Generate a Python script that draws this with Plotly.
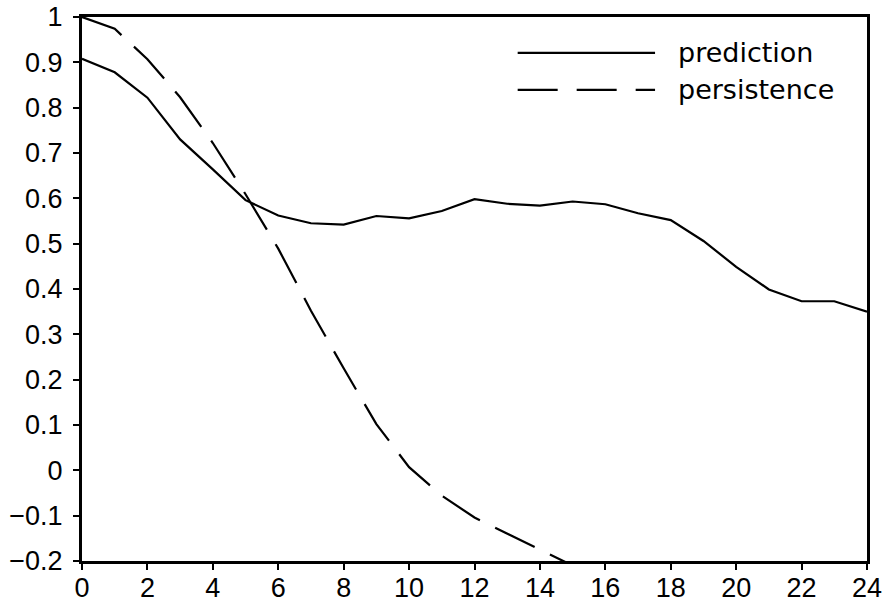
import plotly.graph_objects as go

lead = list(range(25))
prediction = [0.908, 0.878, 0.822, 0.730, 0.664, 0.596, 0.562, 0.545, 0.542, 0.561,
              0.556, 0.572, 0.598, 0.588, 0.584, 0.593, 0.587, 0.567, 0.552, 0.506,
              0.449, 0.399, 0.373, 0.373, 0.350]
persistence_x = list(range(16))
persistence = [1.0, 0.974, 0.907, 0.823, 0.722, 0.609, 0.489, 0.352, 0.225, 0.102,
               0.007, -0.056, -0.104, -0.140, -0.175, -0.21]

x_ticks = list(range(0, 25, 2))
y_ticks = [round(-0.2 + 0.1 * i, 1) for i in range(13)]
y_labels = ["\u22120.2", "\u22120.1", "0", "0.1", "0.2", "0.3", "0.4", "0.5",
            "0.6", "0.7", "0.8", "0.9", "1"]
legend_names = ["prediction", "persistence"]

fig = go.Figure()
fig.add_trace(go.Scatter(x=lead, y=prediction, mode="lines", name=legend_names[0],
                         line=dict(color="black", width=2.2), showlegend=False))
fig.add_trace(go.Scatter(x=persistence_x, y=persistence, mode="lines", name=legend_names[1],
                         line=dict(color="black", width=2.2, dash="44px,17px"), showlegend=False))

# manual legend (long line samples as in the reference)
legend_rows = [(0.934, "solid"), (0.866, "40px,19px")]
for (yy, dash), name in zip(legend_rows, legend_names):
    fig.add_shape(type="line", xref="paper", yref="paper", x0=0.555, x1=0.730, y0=yy, y1=yy,
                  line=dict(color="black", width=2.2, dash=dash))
    fig.add_annotation(xref="paper", yref="paper", x=0.757, y=yy, text=name, showarrow=False,
                       xanchor="left", yanchor="middle",
                       font=dict(family="DejaVu Sans", size=27, color="black"))

axis_common = dict(showline=True, linecolor="black", linewidth=3, mirror=True,
                   ticks="outside", ticklen=6, tickwidth=2, tickcolor="black",
                   showgrid=False, zeroline=False, automargin=False,
                   tickfont=dict(family="Arial, Liberation Sans", size=27, color="black"))

fig.update_xaxes(range=[0, 24], tickvals=x_ticks, ticktext=[str(v) for v in x_ticks],
                 ticklabelstandoff=-5, **axis_common)
fig.update_yaxes(range=[-0.2, 1], tickvals=y_ticks, ticktext=y_labels,
                 ticklabelstandoff=5, **axis_common)

fig.update_layout(width=884, height=604, margin=dict(l=82, r=17, t=17, b=43),
                  plot_bgcolor="white", paper_bgcolor="white")

fig.write_html("out.html", config={"displayModeBar": False},
               post_script="document.body.style.margin='0';document.body.style.overflow='hidden';")
